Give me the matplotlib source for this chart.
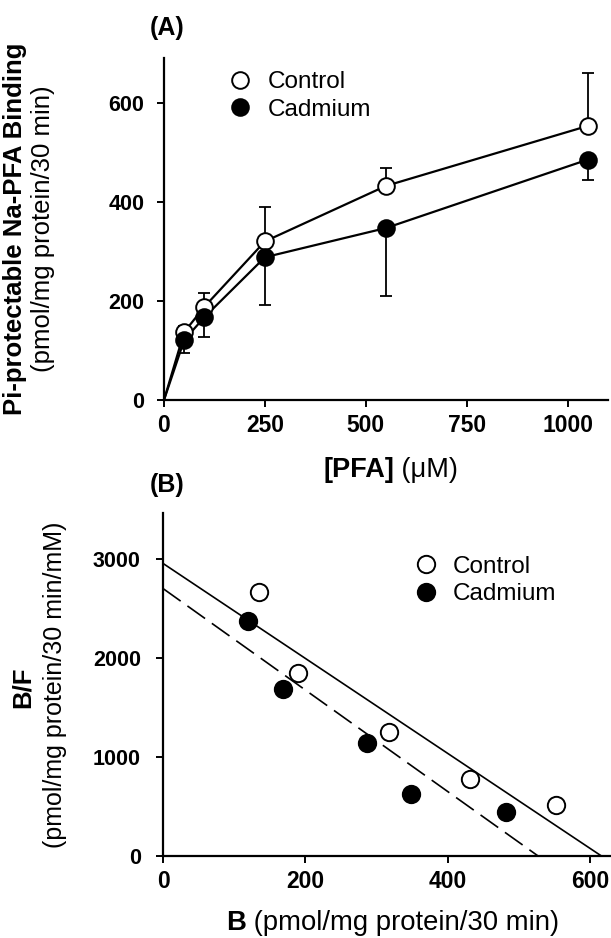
import matplotlib
matplotlib.use("Agg")
import matplotlib.pyplot as plt
import numpy as np

plt.rcParams['font.family'] = ['Liberation Sans', 'DejaVu Sans']

# ---------------- data ----------------
conc_uM = [50, 100, 250, 550, 1050]
control_binding = [137, 188, 320, 432, 553]
control_err = [13, 28, 70, 37, 106]
cadmium_binding = [121, 167, 288, 347, 485]
cadmium_err = [26, 39, 96, 137, 42]

# Scatchard plot
control_B = [135, 189, 318, 432, 552]
control_BF = [2670, 1856, 1255, 783, 520]
cadmium_B = [120, 168, 286, 348, 482]
cadmium_BF = [2379, 1694, 1144, 624, 445]
# regression lines: (y-intercept, x-intercept)
control_fit = (2960, 616)
cadmium_fit = (2706, 527)

xticks_A = [0, 250, 500, 750, 1000]
yticks_A = [0, 200, 400, 600]
xticks_B = [0, 200, 400, 600]
yticks_B = [0, 1000, 2000, 3000]

# ---------------- figure ----------------
W, H = 611, 938
fig = plt.figure(figsize=(W / 100, H / 100), dpi=100)


def px_axes(l, r, t, b):
    return fig.add_axes([l / W, 1 - b / H, (r - l) / W, (b - t) / H])


def style(ax, ypad):
    for s in ('top', 'right'):
        ax.spines[s].set_visible(False)
    for s in ('left', 'bottom'):
        ax.spines[s].set_linewidth(1.6)
    ax.tick_params(axis='both', direction='out', length=5, width=1.4)
    ax.tick_params(axis='x', labelsize=16.5, pad=5)
    ax.tick_params(axis='y', labelsize=15.5, pad=ypad)
    for lab in ax.get_xticklabels() + ax.get_yticklabels():
        lab.set_fontweight('bold')


ms_A = 12
mew = 1.4

# ---------- Panel A ----------
axA = px_axes(164, 608, 58, 400)
x_line = [0] + conc_uM
axA.plot(x_line, [0] + control_binding, color='black', lw=1.6, zorder=2)
axA.plot(x_line, [0] + cadmium_binding, color='black', lw=1.6, zorder=2)
axA.errorbar(conc_uM, control_binding,
             yerr=[np.zeros(len(control_err)), control_err],
             fmt='none', ecolor='black', elinewidth=1.3, capsize=4.5,
             capthick=1.3, zorder=1)
axA.errorbar(conc_uM, cadmium_binding,
             yerr=[cadmium_err, np.zeros(len(cadmium_err))],
             fmt='none', ecolor='black', elinewidth=1.3, capsize=4.5,
             capthick=1.3, zorder=1)
axA.plot(conc_uM, control_binding, 'o', ms=ms_A, mfc='white',
         mec='black', mew=mew, zorder=3, label='Control')
axA.plot(conc_uM, cadmium_binding, 'o', ms=ms_A, mfc='black',
         mec='black', mew=mew, zorder=4, label='Cadmium')
axA.set_xlim(0, 1100)
axA.set_ylim(0, 690)
axA.set_xticks(xticks_A)
axA.set_yticks(yticks_A)
style(axA, 9)
axA.legend(loc='upper left', bbox_to_anchor=(0.144, 0.961), frameon=False,
           fontsize=17.5, handletextpad=0.62, labelspacing=0.22,
           borderaxespad=0.0, borderpad=0.0, handlelength=1.0)

# ---------- Panel B ----------
axB = px_axes(163, 610, 513, 856)
axB.plot([0, control_fit[1]], [control_fit[0], 0], color='black', lw=1.2,
         zorder=2)
axB.plot([0, cadmium_fit[1]], [cadmium_fit[0], 0], color='black', lw=1.2,
         dashes=[13, 5], zorder=2)
axB.plot(control_B, control_BF, 'o', ms=12.5, mfc='white', mec='black',
         mew=mew, zorder=3, label='Control')
axB.plot(cadmium_B, cadmium_BF, 'o', ms=12.5, mfc='black', mec='black',
         mew=mew, zorder=3, label='Cadmium')
axB.set_xlim(0, 628)
axB.set_ylim(0, 3470)
axB.set_xticks(xticks_B)
axB.set_yticks(yticks_B)
style(axB, 11)
axB.legend(loc='upper left', bbox_to_anchor=(0.5615, 0.876), frameon=False,
           fontsize=17.5, handletextpad=0.58, labelspacing=0.24,
           borderaxespad=0.0, borderpad=0.0, handlelength=1.0)

# ---------------- labels ----------------
renderer = fig.canvas.get_renderer()


def ftxt(x, y, s, **kw):
    return fig.text(x / W, 1 - y / H, s, **kw)


def two_part(cx, baseline_y, bold, regular, size):
    t1 = ftxt(0, 0, bold, fontsize=size, fontweight='bold')
    t2 = ftxt(0, 0, regular, fontsize=size)
    w1 = t1.get_window_extent(renderer).width
    w2 = t2.get_window_extent(renderer).width
    x0 = cx - (w1 + w2) / 2
    for t, x in ((t1, x0), (t2, x0 + w1)):
        t.set_position((x / W, 1 - baseline_y / H))
        t.set_ha('left')
        t.set_va('baseline')
    return t1, t2


# panel letters
ftxt(150, 28, '(A)', fontsize=18, fontweight='bold', ha='left', va='center')
ftxt(150, 485, '(B)', fontsize=18, fontweight='bold', ha='left', va='center')

# y labels (rotated)
ftxt(15, 229, 'Pi-protectable Na-PFA Binding', fontsize=18.5,
     fontweight='bold', rotation=90, ha='center', va='center')
ftxt(43, 229, '(pmol/mg protein/30 min)', fontsize=18.5,
     rotation=90, ha='center', va='center')
ftxt(23, 687, 'B/F', fontsize=18.5, fontweight='bold', rotation=90,
     ha='center', va='center')
ftxt(55, 685, '(pmol/mg protein/30 min/mM)', fontsize=18,
     rotation=90, ha='center', va='center')

# x labels
two_part(391, 477, '[PFA]', ' (\u03bcM)', 19.5)
two_part(393, 930, 'B', ' (pmol/mg protein/30 min)', 19.8)

fig.savefig('out.png', dpi=100)
